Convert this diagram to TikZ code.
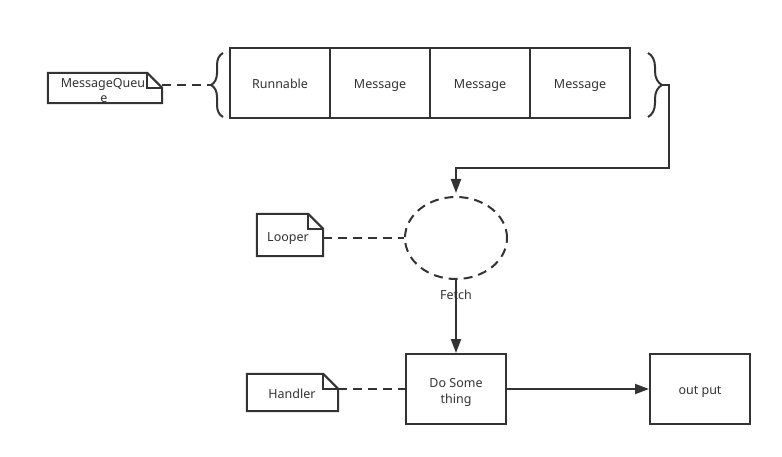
\documentclass[tikz,border=0pt]{standalone}
\usepackage{fontspec}
\setmainfont{Noto Sans}
\usetikzlibrary{arrows.meta,decorations.pathreplacing,shapes.geometric}
\definecolor{ink}{HTML}{333333}
\tikzset{
  base/.style={line width=2pt, draw=ink},
  txt/.style={inner sep=0pt, text=ink, font=\fontsize{12.5}{16}\selectfont, text height=11pt, text depth=0pt},
  boxnode/.style={base, rectangle, txt, minimum width=100pt, minimum height=69pt},
  plain/.style={txt},
  dashline/.style={base, dash pattern=on 9pt off 6pt},
  arrowline/.style={base, -{Triangle[length=14pt,width=10pt]}},
  bracedeco/.style={base, decorate, decoration={brace, amplitude=#1}}
}
\newcommand{\notedraw}[1]{%
  \draw[base, line join=miter] (#1.north west) -- ([xshift=-15pt]#1.north east) -- ([yshift=-15pt]#1.north east) -- (#1.south east) -- (#1.south west) -- cycle;
  \draw[base] ([xshift=-15pt]#1.north east) -- ([xshift=-15pt,yshift=-15pt]#1.north east) -- ([yshift=-15pt]#1.north east);
}
\begin{document}
\begin{tikzpicture}[x=1pt,y=-1pt]
\useasboundingbox[fill=white] (0,0) rectangle (782,457);
% queue cells
\node[boxnode, minimum height=70pt] (c1) at (280,83) {Runnable};
\node[boxnode, minimum height=70pt] (c2) at (380,83) {Message};
\node[boxnode, minimum height=70pt] (c3) at (480,83) {Message};
\node[boxnode, minimum height=70pt] (c4) at (580,83) {Message};
% braces
\draw[bracedeco=12pt] (223,117) -- (223,53);
\coordinate (lb) at (211,85);
\draw[bracedeco=14pt] (648,53) -- (648,117);
\coordinate (rb) at (662,85);
% MessageQueue note
\node[minimum width=114pt, minimum height=30pt, inner sep=0pt] (mq) at (105,88) {};
\notedraw{mq}
\node[plain] (mqt) at (103,82) {MessageQueu};
\node[plain] (mqe) at (104,97) {e};
\coordinate (mqr) at (162,85);
\draw[dashline] (mqr) -- (lb);
% Looper ellipse
\node[base, draw, ellipse, dash pattern=on 9pt off 6pt, minimum width=102pt, minimum height=82pt, inner sep=0pt] (ell) at (456,238) {};
\coordinate (c1r) at (669,85);
\coordinate (c2r) at (669,168);
\coordinate (c3r) at (456,168);
\draw[arrowline] (rb) -- (c1r) -- (c2r) -- (c3r) -- ([yshift=3pt]ell.north);
% Looper note
\node[minimum width=66pt, minimum height=42pt, inner sep=0pt] (lp) at (290,235) {};
\notedraw{lp}
\node[plain] (lpt) at (288,236) {Looper};
\draw[dashline] (lp.east |- ell.west) -- (ell.west);
% Do Something
\node[base, draw, rectangle, minimum width=100pt, minimum height=70pt, inner sep=0pt] (ds) at (456,389) {};
\node[plain] (ds1) at (456,382) {Do Some};
\node[plain] (ds2) at (456,398) {thing};
\node[plain] (fetch) at (456,294) {Fetch};
\draw[arrowline] (ell.south) -- (ds.north);
% Handler note
\node[minimum width=91pt, minimum height=37pt, inner sep=0pt] (hd) at (292.5,392.5) {};
\notedraw{hd}
\node[plain] (hdt) at (292,393) {Handler};
\draw[dashline] (hd.east |- ds.west) -- (ds.west);
% output
\node[boxnode, minimum height=70pt] (out) at (700,389) {out put};
\draw[arrowline] (ds.east) -- (out.west);
\end{tikzpicture}
\end{document}
